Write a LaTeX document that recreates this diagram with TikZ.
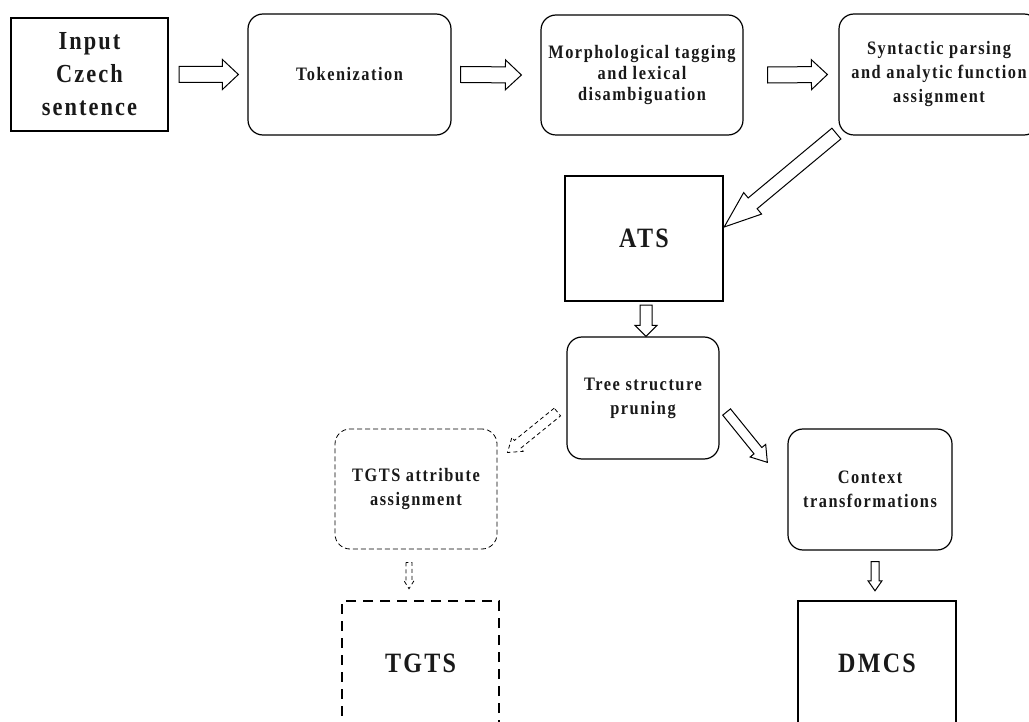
\documentclass[tikz,border=0pt]{standalone}
\usepackage{fontspec}
\setmainfont{Liberation Serif}[FakeStretch=0.86,LetterSpace=8]
\usetikzlibrary{calc}

% hollow block arrow: [style]{from}{to}{shaft half}{head half}{head length}
\newcommand{\hollowarrow}[6][]{%
  \draw[#1] let \p1=#2, \p2=#3,
    \n1={atan2(\y2-\y1,\x2-\x1)}, \n2={veclen(\x2-\x1,\y2-\y1)} in
    [shift={(\p1)}, rotate=\n1]
    (0pt,-#4 pt) -- (\n2-#6 pt,-#4 pt) -- (\n2-#6 pt,-#5 pt) -- (\n2,0pt)
    -- (\n2-#6 pt,#5 pt) -- (\n2-#6 pt,#4 pt) -- (0pt,#4 pt) -- cycle;}

\begin{document}
\begin{tikzpicture}[x=1pt,y=-1pt,
  procbox/.style={draw, rounded corners=15pt, line width=1.2pt, align=center,
    inner sep=0pt, font=\bfseries\fontsize{19}{24}\selectfont},
  databox/.style={draw, line width=2.4pt, align=center, inner sep=0pt,
    font=\bfseries\fontsize{28}{34}\selectfont},
  optbox/.style={procbox, line width=0.8pt, dash pattern=on 5pt off 3pt},
  optdata/.style={databox, line width=2.6pt, dash pattern=on 10pt off 7pt},
  flow/.style={line width=1pt, fill=white, line join=miter},
  optflow/.style={flow, line width=0.8pt, dash pattern=on 4pt off 3pt}]

\definecolor{textgray}{rgb}{0.1,0.1,0.1}
\path[use as bounding box, clip] (0,0) rectangle (1029,722);

% Top row
\node[databox, line width=2pt, minimum width=157, minimum height=113,
  font=\bfseries\fontsize{26}{33}\selectfont, text=textgray]
  (inp) at (89.5,74.5) {Input\\Czech\\sentence};
\node[procbox, minimum width=203, minimum height=121, text=textgray]
  (tok) at (349.5,74.5) {Tokenization};
\node[procbox, minimum width=202, minimum height=120, text=textgray,
  font=\bfseries\fontsize{19}{21}\selectfont]
  (morph) at (642,75) {Morphological tagging\\and lexical\\disambiguation};
\node[procbox, minimum width=200, minimum height=121, text=textgray]
  (syn) at (939,74.5) {Syntactic parsing\\and analytic function\\assignment};

% Middle column
\node[databox, minimum width=158, minimum height=125, text=textgray]
  (ats) at (644,238.5) {ATS};
\node[procbox, minimum width=152, minimum height=122, text=textgray]
  (tree) at (643,398) {Tree structure\\pruning};

% Left branch
\node[optbox, minimum width=162, minimum height=120, text=textgray]
  (tgtsa) at (416,489) {TGTS attribute\\assignment};
\node[optdata, minimum width=157, minimum height=125, text=textgray]
  (tgts) at (420.5,663.5) {TGTS};

% Right branch
\node[procbox, minimum width=164, minimum height=121, text=textgray]
  (ctx) at (870,489.5) {Context\\transformations};
\node[databox, minimum width=158, minimum height=125, text=textgray]
  (dmcs) at (877,663.5) {DMCS};

% Arrows
\hollowarrow[flow]{($(inp.east)+(10,0)$)}{($(tok.west)+(-9,0)$)}{8}{15}{16}
\hollowarrow[flow]{($(tok.east)+(9,0)$)}{($(morph.west)+(-19,0)$)}{8}{15}{16}
\hollowarrow[flow]{($(morph.east)+(24,0)$)}{($(syn.west)+(-11,0)$)}{8}{15}{16}
\hollowarrow[flow]{($(syn.south west)+(-2,-2)$)}{($(ats.east)+(0,-11.5)$)}{7}{14}{37}
\hollowarrow[flow]{($(ats.south)+(2,3)$)}{($(tree.north)+(3,0)$)}{6}{11}{11}
\hollowarrow[flow]{($(tree.east)+(7,14)$)}{($(ctx.north west)+(-20,34)$)}{5}{10}{15}
\hollowarrow[optflow]{($(tree.west)+(-9,14)$)}{($(tgtsa.north east)+(10,24)$)}{5}{9}{13}
\hollowarrow[flow]{($(ctx.south)+(5,11)$)}{($(dmcs.north)+(-2,-9)$)}{4}{7}{10}
\hollowarrow[optflow]{($(tgtsa.south)+(-7,13)$)}{($(tgts.north)+(-11.5,-11)$)}{3}{5}{8}

\end{tikzpicture}
\end{document}
